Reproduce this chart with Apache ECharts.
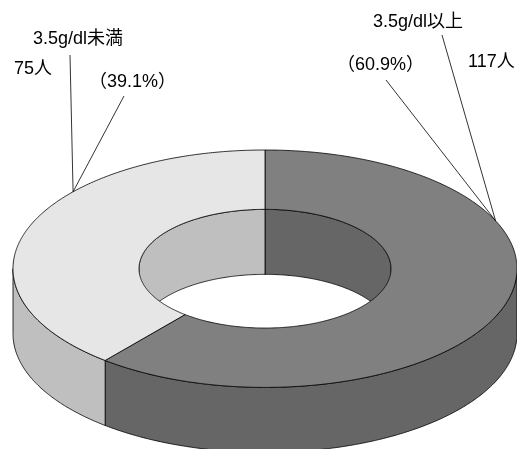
<!DOCTYPE html>
<html>
<head>
<meta charset="utf-8">
<script src="https://cdn.jsdelivr.net/npm/echarts@6/dist/echarts.min.js"></script>
<style>
  html, body { margin: 0; padding: 0; background: #fff; }
  #chart { width: 517px; height: 449px; }
</style>
</head>
<body>
<div id="chart"></div>
<script>
// Serum albumin groups and patient counts
const groupNames = ['3.5g/dl以上', '3.5g/dl未満'];
const patientCounts = [117, 75];
const countUnit = '人';

// Fill colours per group: top face and side walls
const topColors = ['#808080', '#e6e6e6'];
const sideColors = ['#666666', '#bfbfbf'];

// Ring geometry (px): ellipse centre, radii, extrusion depth, hole ratio
const ring = { cx: 265, cy: 268.7, rx: 252, ry: 118.7, depth: 65, innerRatio: 0.5 };

// Label placement per group (angle of the leader-line anchor on the rim, text positions)
const labelLayout = [
  { anchorDeg: 66.2, name: [373, 22], count: [468, 62], pct: [337, 65], lineFrom: [[442, 35], [386, 80]] },
  { anchorDeg: 310.4, name: [33, 39], count: [14, 69], pct: [89, 82], lineFrom: [[70, 55], [124, 96]] }
];

const FONT = '"Liberation Sans", "Noto Sans CJK JP", sans-serif';
const total = patientCounts.reduce((a, b) => a + b, 0);

// Start / end angles (degrees, clockwise from 12 o'clock)
const startDeg = [], endDeg = [];
patientCounts.reduce((acc, v, i) => {
  startDeg[i] = acc / total * 360;
  endDeg[i] = (acc + v) / total * 360;
  return acc + v;
}, 0);

function pt(deg, scale, dy) {
  const t = deg * Math.PI / 180;
  return [ring.cx + ring.rx * scale * Math.sin(t), ring.cy - ring.ry * scale * Math.cos(t) + dy];
}
function arc(a0, a1, scale, dy) {
  const n = Math.max(2, Math.ceil(Math.abs(a1 - a0) / 0.5));
  const pts = [];
  for (let k = 0; k <= n; k++) pts.push(pt(a0 + (a1 - a0) * k / n, scale, dy));
  return pts;
}

const edge = { stroke: '#000', lineWidth: 0.8, lineJoin: 'round' };

function renderItem(params, api) {
  const i = params.dataIndex;
  const a0 = startDeg[i], a1 = endDeg[i];
  const r = ring.innerRatio, d = ring.depth;
  const children = [];

  // outer wall, front half only
  const f0 = Math.max(a0, 90), f1 = Math.min(a1, 270);
  if (f1 > f0) {
    children.push({
      type: 'polygon', z2: 1,
      shape: { points: arc(f0, f1, 1, 0).concat(arc(f1, f0, 1, d)) },
      style: Object.assign({ fill: sideColors[i] }, edge)
    });
  }
  // inner wall, back half only
  [[0, 90], [270, 360]].forEach(([b0, b1]) => {
    const s = Math.max(a0, b0), e = Math.min(a1, b1);
    if (e > s) {
      children.push({
        type: 'polygon', z2: 1,
        shape: { points: arc(s, e, r, 0).concat(arc(e, s, r, d)) },
        style: Object.assign({ fill: sideColors[i] }, edge)
      });
    }
  });
  // top face
  children.push({
    type: 'polygon', z2: 5,
    shape: { points: arc(a0, a1, 1, 0).concat(arc(a1, a0, r, 0)) },
    style: Object.assign({ fill: topColors[i] }, edge)
  });

  // leader lines and labels
  const lay = labelLayout[i];
  const anchor = pt(lay.anchorDeg, 1, 0);
  lay.lineFrom.forEach(p => {
    children.push({
      type: 'line', z2: 10,
      shape: { x1: p[0], y1: p[1], x2: anchor[0], y2: anchor[1] },
      style: { stroke: '#000', lineWidth: 0.8 }
    });
  });
  const value = api.value(0);
  const pctText = '（' + (value / total * 100).toFixed(1) + '%）';
  const texts = [
    [groupNames[i], lay.name],
    [value + countUnit, lay.count],
    [pctText, lay.pct]
  ];
  texts.forEach(([t, p]) => {
    children.push({
      type: 'text', z2: 10,
      style: {
        text: t, x: p[0], y: p[1], fill: '#000',
        font: '18px ' + FONT, align: 'left', verticalAlign: 'middle'
      }
    });
  });

  return { type: 'group', children };
}

const chart = echarts.init(document.getElementById('chart'), null, { renderer: 'canvas' });
chart.setOption({
  backgroundColor: '#fff',
  animation: false,
  series: [{
    type: 'custom',
    coordinateSystem: 'none',
    data: patientCounts.map((v, i) => ({ name: groupNames[i], value: [v] })),
    renderItem
  }]
});
</script>
</body>
</html>
